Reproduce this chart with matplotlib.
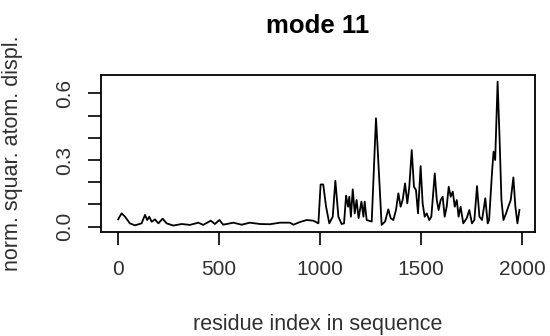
import matplotlib
matplotlib.use('Agg')
import matplotlib.pyplot as plt
from matplotlib.ticker import MultipleLocator

# Values (residue index, displacement)
residue = [1, 18, 35, 59, 84, 117, 134, 145, 155, 167, 183, 200, 221, 241, 274,
           315, 356, 398, 422, 459, 480, 502, 521, 571, 612, 653, 703, 752, 802,
           851, 868, 901, 934, 967, 992, 1003, 1016, 1030, 1046, 1063, 1076, 1091,
           1107, 1119, 1129, 1139, 1145, 1153, 1162, 1172, 1181, 1191, 1205, 1215,
           1221, 1231, 1256, 1277, 1284, 1305, 1322, 1338, 1350, 1363, 1376, 1388,
           1399, 1409, 1421, 1432, 1442, 1454, 1465, 1475, 1485, 1498, 1508, 1518,
           1528, 1541, 1551, 1568, 1578, 1587, 1597, 1607, 1617, 1627, 1637, 1647,
           1657, 1667, 1677, 1686, 1696, 1709, 1726, 1739, 1752, 1764, 1777, 1789,
           1802, 1818, 1830, 1837, 1851, 1859, 1867, 1879, 1889, 1898, 1908, 1921,
           1932, 1944, 1957, 1967, 1977, 1987]
displ = [0.033, 0.060, 0.045, 0.015, 0.006, 0.015, 0.053, 0.030, 0.045, 0.022,
         0.033, 0.015, 0.036, 0.015, 0.005, 0.012, 0.008, 0.018, 0.008, 0.027,
         0.012, 0.030, 0.009, 0.018, 0.009, 0.018, 0.012, 0.011, 0.018, 0.018,
         0.009, 0.021, 0.030, 0.027, 0.015, 0.190, 0.190, 0.090, 0.015, 0.045,
         0.207, 0.045, 0.012, 0.015, 0.140, 0.090, 0.135, 0.045, 0.168, 0.060,
         0.120, 0.038, 0.113, 0.045, 0.113, 0.030, 0.023, 0.488, 0.375, 0.008,
         0.023, 0.078, 0.038, 0.030, 0.075, 0.150, 0.090, 0.120, 0.195, 0.105,
         0.180, 0.345, 0.180, 0.165, 0.060, 0.273, 0.105, 0.045, 0.060, 0.030,
         0.045, 0.240, 0.120, 0.075, 0.120, 0.135, 0.045, 0.090, 0.180, 0.135,
         0.158, 0.090, 0.120, 0.045, 0.090, 0.015, 0.038, 0.075, 0.015, 0.030,
         0.183, 0.045, 0.030, 0.128, 0.015, 0.030, 0.240, 0.338, 0.300, 0.653,
         0.390, 0.120, 0.030, 0.060, 0.090, 0.120, 0.222, 0.090, 0.015, 0.075]

x_ticks = [0, 500, 1000, 1500, 2000]
y_ticks = [0.0, 0.3, 0.6]

plt.rcParams['font.family'] = ['Liberation Sans', 'DejaVu Sans']
text_col = '#303030'

fig = plt.figure(figsize=(5.5, 3.36), dpi=100)
ax = fig.add_axes([0.1836, 0.3095, 0.7891, 0.4673])

ax.plot(residue, displ, color='black', lw=1.3)

ax.set_xlim(-84, 2064)
ax.set_ylim(-0.024, 0.683)
ax.set_xticks(x_ticks)
ax.set_yticks(y_ticks)
ax.yaxis.set_minor_locator(MultipleLocator(0.1))

for s in ax.spines.values():
    s.set_linewidth(1.3)
ax.tick_params(which='both', direction='out', length=9.5, width=1.2,
               colors='black', labelcolor=text_col, labelsize=15)
ax.tick_params(axis='x', pad=11)
ax.tick_params(axis='y', pad=10, labelrotation=90)
for lab in ax.get_yticklabels():
    lab.set_va('center')

ax.set_title('mode 11', fontsize=18.5, fontweight='bold', pad=30)
ax.set_xlabel('residue index in sequence', fontsize=15.5, color=text_col)
ax.set_ylabel('norm. squar. atom. displ.', fontsize=15.5, color=text_col)
ax.xaxis.set_label_coords(0.5, -0.52)
ax.yaxis.set_label_coords(-0.18, 0.5)

fig.savefig('out.png', dpi=100)
